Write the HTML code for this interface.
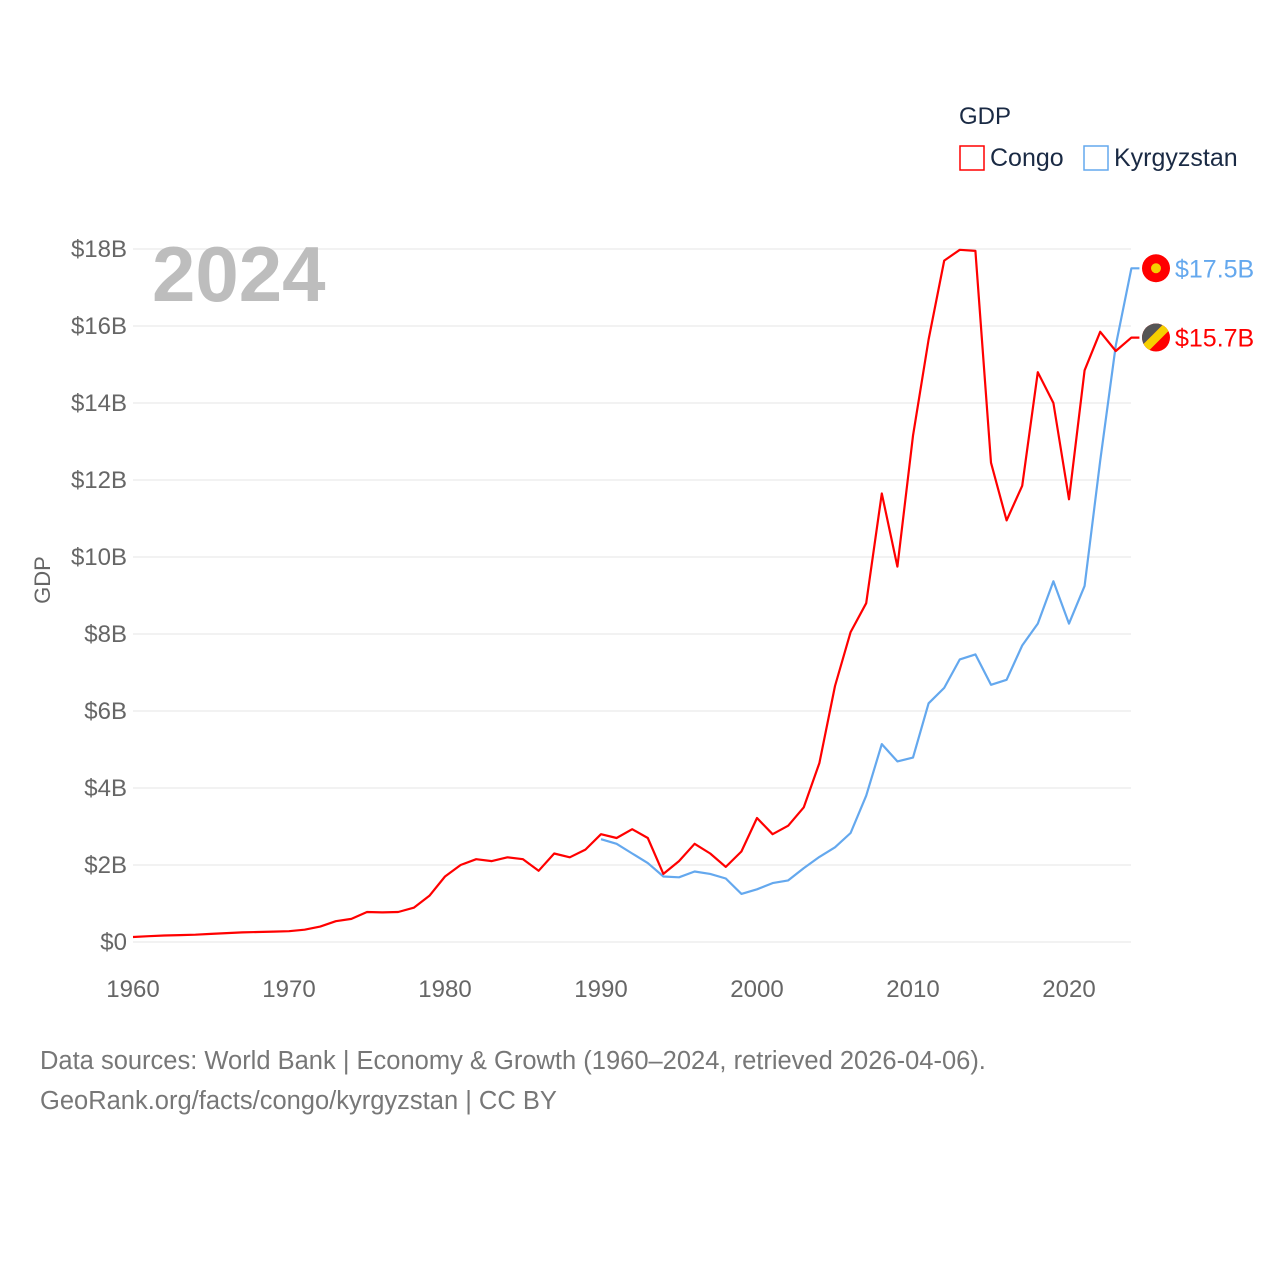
<!DOCTYPE html>
<html><head><meta charset="utf-8"><style>
body{margin:0;background:#fff;width:1280px;height:1280px;overflow:hidden;font-family:"Liberation Sans",sans-serif}
svg text{font-family:"Liberation Sans",sans-serif}
</style></head><body>
<svg id="chart" width="1280" height="1280" viewBox="0 0 1280 1280" xmlns="http://www.w3.org/2000/svg">
<defs><clipPath id="cf"><circle cx="1156" cy="337" r="14"/></clipPath></defs>
<g id="grid"></g>
<g id="yticks"></g>
<g id="xticks"></g>
<text x="152" y="301" font-size="78" font-weight="bold" fill="#bdbdbd">2024</text>
<text transform="translate(50,580) rotate(-90)" text-anchor="middle" font-size="22" fill="#666">GDP</text>
<g id="series"></g>
<text x="959" y="124" font-size="24" fill="#1a2a44">GDP</text>
<g><rect x="960" y="146" width="24" height="24" fill="none" stroke="#f00" stroke-width="1.5"/><text x="990" y="166" font-size="25" fill="#1a2a44">Congo</text></g>
<g><rect x="1084" y="146" width="24" height="24" fill="none" stroke="#64a8ee" stroke-width="1.5"/><text x="1114" y="166" font-size="25" fill="#1a2a44">Kyrgyzstan</text></g>
<text x="40" y="1069" font-size="25.5" fill="#777">Data sources: World Bank | Economy &amp; Growth (1960–2024, retrieved 2026-04-06).</text>
<text x="40" y="1109" font-size="25.5" fill="#777">GeoRank.org/facts/congo/kyrgyzstan | CC BY</text>
</svg>
<script>
const yTicks=[0,2,4,6,8,10,12,14,16,18];
const xTicks=[1960,1970,1980,1990,2000,2010,2020];
const congoStart=1960;
const congo=[0.13,0.15,0.17,0.18,0.19,0.21,0.23,0.25,0.26,0.27,0.28,0.32,0.4,0.54,0.6,0.78,0.77,0.78,0.89,1.2,1.7,2.0,2.15,2.1,2.2,2.15,1.85,2.3,2.2,2.4,2.8,2.7,2.93,2.7,1.77,2.1,2.55,2.3,1.95,2.35,3.22,2.8,3.02,3.5,4.65,6.65,8.05,8.8,11.65,9.75,13.15,15.65,17.7,17.98,17.95,12.45,10.95,11.85,14.8,14.0,11.5,14.85,15.85,15.35,15.7];
const kgStart=1990;
const kyrgyzstan=[2.67,2.55,2.3,2.05,1.7,1.68,1.83,1.77,1.65,1.25,1.37,1.53,1.6,1.92,2.21,2.46,2.83,3.8,5.14,4.69,4.79,6.2,6.6,7.34,7.47,6.68,6.81,7.7,8.27,9.37,8.27,9.25,12.5,15.5,17.5];
const NS="http://www.w3.org/2000/svg";
const X=y=>133+(y-1960)*15.6;
const Y=v=>942-v*38.5;
function mk(tag,attrs,parent,txt){const e=document.createElementNS(NS,tag);for(const k in attrs)e.setAttribute(k,attrs[k]);if(txt!==undefined)e.textContent=txt;parent.appendChild(e);return e;}
const grid=document.getElementById('grid'),yt=document.getElementById('yticks'),xt=document.getElementById('xticks'),ser=document.getElementById('series');
yTicks.forEach(v=>{
 const l=mk('line',{x1:133,x2:1131,y1:Y(v),y2:Y(v),stroke:'#e6e6e6','stroke-width':1},grid);
 
 
 const t=mk('text',{x:127,y:Y(v)+8,'text-anchor':'end','font-size':24,fill:'#666'},yt,v===0?'$0':'$'+v+'B');
 
 
});
xTicks.forEach(v=>{
 const t=mk('text',{x:X(v),y:997,'text-anchor':'middle','font-size':24,fill:'#666'},xt,String(v));
 
 
});
function line(data,start,color,name){
 const last=data[data.length-1];
 const d=data.map((v,i)=>(i?'L':'M')+X(start+i).toFixed(1)+','+Y(v).toFixed(1)).join('')+'L'+(X(start+data.length-1)+8).toFixed(1)+','+Y(last).toFixed(1);
 const p=mk('path',{d:d,fill:'none',stroke:color,'stroke-width':2.2,'stroke-linejoin':'round'},ser);
 
 
}
line(kyrgyzstan,kgStart,'#64a8ee','kyrgyzstan-line');
line(congo,congoStart,'#f00','congo-line');
function endLabel(v,color,name){
 const y=Y(v);
 const g=mk('g',{},ser);
 
 
 if(name==='kyrgyzstan'){
  mk('circle',{cx:1156,cy:y,r:14,fill:'#f00'},g);
  mk('circle',{cx:1156,cy:y,r:5,fill:'#f5d000'},g);
 } else {
  const cp=document.getElementById('cf').firstChild;
  cp.setAttribute('cy',y);
  const gg=mk('g',{'clip-path':'url(#cf)'},g);
  mk('rect',{x:1140,y:y-16,width:32,height:32,fill:'#f00'},gg);
  mk('polygon',{points:`1140,${y+10} 1140,${y-16} 1166,${y-16}`,fill:'#555'},gg);
  mk('polygon',{points:`1140,${y+10} 1166,${y-16} 1172,${y-16} 1172,${y-10} 1146,${y+16} 1140,${y+16}`,fill:'#f5d000'},gg);
 }
 const t=mk('text',{x:1175,y:y+9,'font-size':25,fill:color},ser,'$'+v.toFixed(1)+'B');
 
 
}
endLabel(kyrgyzstan[kyrgyzstan.length-1],'#64a8ee','kyrgyzstan');
endLabel(congo[congo.length-1],'#f00','congo');
</script>
</body></html>
